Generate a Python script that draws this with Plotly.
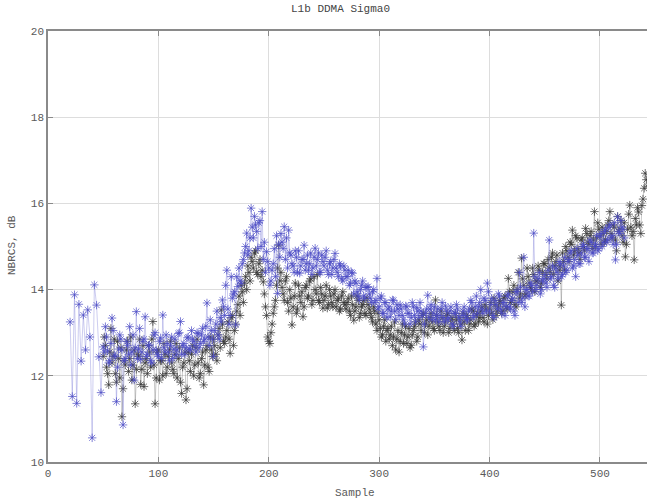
import plotly.graph_objects as go

# NBRCS (dB) per sample for the two DDM channels, stored as two interleaved
# halves (even / odd sample numbers) per channel.
blue_x_a = list(range(20, 523, 2))
blue_y_a = [
    13.25, 11.52, 13.88, 11.36, 13.66, 12.34, 13.41, 12.60, 13.53, 12.90,
    10.56, 14.11, 13.64, 12.44, 11.61, 12.67, 13.14, 12.58, 12.35, 13.34,
    12.48, 11.40, 12.62, 12.85, 10.86, 12.40, 12.70, 13.14, 12.55, 11.90,
    13.49, 12.62, 12.38, 12.80, 13.37, 12.50, 12.72, 12.30, 12.95, 12.60,
    12.45, 12.88, 13.41, 12.55, 12.75, 12.35, 12.90, 12.62, 12.48, 12.98,
    13.26, 12.70, 12.50, 12.88, 12.62, 13.05, 12.80, 12.55, 12.98, 12.75,
    13.10, 12.85, 13.69, 12.70, 13.05, 12.45, 13.20, 12.95, 13.35, 13.76,
    13.40, 14.45, 13.20, 14.30, 13.90, 13.18, 14.07, 14.20, 14.60, 14.85,
    15.31, 14.90, 15.89, 15.20, 15.50, 14.95, 15.60, 15.81, 15.10, 14.88,
    14.50, 14.20, 14.60, 14.30, 13.91, 14.75, 15.10, 15.46, 15.20, 15.38,
    14.80, 14.55, 14.90, 14.40, 14.38, 14.70, 15.03, 14.60, 14.45, 14.85,
    14.50, 14.96, 14.70, 14.40, 14.80, 14.55, 14.90, 14.35, 14.65, 14.50,
    14.84, 14.40, 14.60, 14.25, 14.55, 14.30, 14.45, 14.15, 14.38, 14.20,
    13.95, 13.76, 14.10, 13.85, 14.05, 14.07, 13.80, 13.95, 13.70, 14.26,
    13.60, 13.85, 13.45, 13.70, 13.55, 13.37, 13.76, 13.50, 13.65, 13.40,
    13.55, 13.30, 13.62, 13.45, 13.20, 13.70, 13.40, 13.58, 13.35, 13.50,
    12.67, 13.45, 13.87, 13.55, 13.30, 13.60, 13.40, 13.25, 13.55, 13.35,
    13.62, 13.30, 13.50, 13.20, 13.45, 13.65, 13.35, 13.15, 13.50, 13.40,
    13.30, 13.55, 13.70, 13.40, 13.85, 13.60, 14.00, 13.45, 13.75, 14.15,
    13.50, 13.80, 13.35, 13.65, 13.90, 13.55, 13.70, 13.40, 13.85, 13.60,
    13.75, 13.50, 13.95, 13.70, 14.06, 13.80, 13.60, 14.00, 13.85, 14.10,
    15.31, 14.00, 14.25, 13.90, 14.20, 14.35, 14.05, 15.15, 14.30, 14.10,
    14.50, 14.25, 14.60, 14.35, 14.75, 14.45, 14.70, 14.90, 14.55, 14.30,
    14.80, 14.60, 15.00, 14.75, 14.95, 14.65, 15.10, 14.85, 15.05, 14.90,
    15.23, 15.00, 15.35, 15.10, 15.45, 15.20, 15.05, 14.69, 15.69, 15.30,
    15.45, 15.20,
]
blue_x_b = list(range(51, 522, 2))
blue_y_b = [
    12.55, 12.90, 12.30, 12.75, 13.05, 12.45, 12.20, 12.95, 12.60, 12.35,
    12.80, 12.50, 12.25, 12.95, 12.65, 12.40, 13.10, 12.55, 12.85, 12.45,
    12.70, 12.35, 12.60, 13.00, 12.50, 12.80, 12.40, 12.65, 12.95, 12.55,
    12.70, 12.40, 12.85, 12.60, 13.00, 12.50, 12.75, 12.65, 12.90, 12.60,
    12.85, 12.70, 13.00, 12.65, 12.95, 12.80, 13.15, 12.90, 13.30, 12.85,
    13.05, 13.50, 12.85, 13.25, 13.60, 14.10, 13.55, 13.40, 13.80, 13.95,
    14.30, 14.50, 14.15, 14.70, 15.00, 14.80, 15.20, 15.45, 15.70, 15.35,
    15.55, 15.00, 14.70, 14.40, 14.65, 14.10, 14.45, 14.95, 15.25, 15.05,
    15.30, 14.95, 14.70, 14.50, 14.85, 14.60, 14.40, 14.75, 14.90, 14.55,
    14.70, 14.45, 14.80, 14.60, 14.35, 14.75, 14.55, 14.85, 14.40, 14.65,
    14.75, 14.45, 14.60, 14.35, 14.70, 14.50, 14.30, 14.55, 14.20, 14.45,
    14.30, 14.10, 14.40, 13.90, 14.15, 13.85, 14.00, 14.20, 13.80, 14.05,
    13.90, 13.70, 14.00, 13.75, 13.55, 13.80, 13.45, 13.70, 13.35, 13.60,
    13.50, 13.75, 13.30, 13.55, 13.65, 13.40, 13.20, 13.60, 13.45, 13.35,
    13.60, 13.25, 13.50, 13.70, 13.40, 13.20, 13.55, 13.35, 13.65, 13.45,
    13.30, 13.55, 13.40, 13.70, 13.25, 13.50, 13.35, 13.60, 13.15, 13.45,
    13.55, 13.25, 13.40, 13.60, 13.30, 13.50, 13.75, 13.35, 13.60, 13.45,
    13.70, 13.55, 13.80, 13.50, 13.95, 13.65, 13.40, 13.75, 13.55, 13.85,
    13.45, 13.70, 13.60, 13.90, 13.55, 13.80, 13.40, 13.95, 14.40, 13.70,
    14.75, 14.00, 13.85, 14.15, 13.95, 14.30, 14.10, 14.40, 14.00, 14.25,
    14.15, 14.45, 14.25, 14.55, 14.05, 14.40, 14.65, 14.30, 14.55, 14.40,
    14.65, 14.85, 14.50, 14.70, 14.95, 14.60, 14.85, 15.05, 14.75, 14.95,
    15.15, 14.85, 15.00, 15.25, 14.95, 15.30, 15.10, 15.40, 15.15, 15.50,
    15.25, 15.55, 15.05, 15.35, 15.60, 15.40,
]

black_x_a = list(range(51, 544, 2))
black_y_a = [
    12.90, 12.20, 11.79, 13.10, 12.45, 12.05, 12.80, 11.95, 11.05, 12.35,
    12.60, 12.10, 12.90, 12.25, 11.35, 12.50, 12.85, 12.15, 11.75, 12.40,
    12.70, 12.20, 13.26, 11.35, 12.55, 11.90, 12.35, 12.75, 12.05, 12.45,
    12.80, 12.15, 12.50, 11.95, 12.65, 11.59, 12.30, 11.44, 12.55, 12.10,
    12.70, 12.25, 12.85, 11.95, 12.40, 11.79, 12.60, 12.20, 12.90, 12.45,
    12.70, 12.35, 13.10, 13.53, 12.80, 12.90, 13.25, 12.52, 13.40, 13.05,
    13.50, 13.85, 14.10, 13.70, 14.30, 14.55, 14.20, 14.65, 14.85, 14.40,
    14.60, 14.30, 14.18, 13.60, 12.90, 12.75, 13.20, 13.60, 14.10, 15.03,
    14.40, 13.90, 14.20, 13.70, 14.00, 13.18, 13.85, 13.45, 14.10, 13.70,
    13.37, 14.05, 13.80, 14.20, 13.65, 14.30, 13.90, 13.75, 14.05, 13.57,
    13.85, 13.57, 14.00, 13.70, 13.90, 13.60, 13.80, 13.55, 13.95, 13.65,
    13.70, 13.50, 13.85, 13.29, 13.60, 13.75, 13.45, 13.65, 13.45, 13.80,
    13.55, 13.35, 13.60, 13.20, 13.45, 13.10, 12.95, 13.30, 13.05, 12.85,
    13.15, 12.90, 12.60, 13.05, 12.80, 13.20, 12.95, 12.75, 13.10, 12.71,
    13.05, 13.25, 12.90, 13.20, 13.40, 13.00, 13.30, 13.15, 13.45, 13.10,
    13.76, 13.25, 13.05, 13.35, 13.15, 13.40, 13.00, 13.30, 13.20, 13.45,
    13.10, 13.35, 12.83, 13.25, 13.40, 13.05, 13.30, 13.50, 13.20, 13.45,
    13.35, 13.60, 13.25, 13.55, 13.40, 13.70, 13.30, 13.65, 13.50, 13.75,
    13.45, 13.80, 13.60, 14.26, 13.70, 13.95, 13.65, 14.00, 13.80, 14.73,
    14.10, 13.90, 14.30, 14.05, 14.50, 13.95, 14.20, 14.45, 14.15, 14.60,
    14.35, 14.70, 14.40, 14.85, 14.55, 14.80, 14.45, 13.64, 14.65, 15.00,
    14.75, 15.10, 15.38, 14.90, 15.20, 14.85, 15.15, 15.00, 15.42, 15.10,
    15.25, 14.95, 15.81, 15.20, 15.40, 15.05, 15.30, 15.15, 15.50, 15.81,
    15.20, 15.45, 14.90, 15.35, 15.60, 15.10, 14.76, 15.40, 15.96, 15.25,
    14.69, 15.50, 15.80, 15.30, 16.10, 16.70, 16.40,
]
black_x_b = list(range(50, 543, 2))
black_y_b = [
    12.45, 12.70, 12.05, 12.55, 12.30, 12.85, 11.85, 12.40, 12.65, 11.70,
    12.25, 12.80, 12.40, 11.90, 12.60, 12.15, 12.45, 11.80, 12.70, 12.30,
    12.05, 12.55, 12.85, 12.25, 11.95, 12.60, 12.35, 12.00, 12.50, 12.20,
    12.60, 12.30, 12.05, 12.75, 12.40, 11.85, 12.20, 12.55, 11.70, 12.35,
    12.50, 12.00, 12.65, 12.30, 12.05, 12.55, 12.25, 12.70, 12.10, 12.60,
    12.85, 12.50, 12.95, 12.65, 13.20, 12.75, 13.05, 12.85, 13.35, 12.70,
    13.20, 13.65, 13.40, 13.95, 14.15, 14.00, 14.40, 14.75, 14.50, 14.90,
    14.35, 14.70, 14.45, 13.90, 13.40, 12.80, 13.00, 13.45, 13.75, 14.50,
    14.20, 14.05, 13.75, 14.30, 13.50, 13.80, 13.60, 14.15, 13.55, 13.85,
    13.95, 13.60, 14.10, 13.85, 14.25, 13.75, 14.00, 14.35, 13.70, 13.90,
    13.75, 14.10, 13.65, 13.85, 13.60, 14.00, 13.75, 13.50, 13.85, 13.70,
    13.55, 13.80, 13.40, 13.65, 13.50, 13.85, 13.35, 13.60, 13.75, 13.40,
    13.65, 13.45, 13.25, 13.50, 13.05, 13.30, 12.90, 13.15, 12.80, 13.10,
    12.95, 12.70, 13.25, 12.85, 12.55, 13.00, 12.75, 13.15, 12.90, 12.65,
    12.95, 13.15, 12.80, 13.30, 13.05, 13.45, 13.20, 12.95, 13.35, 13.25,
    13.05, 13.40, 13.15, 13.50, 13.00, 13.25, 13.45, 13.10, 13.35, 13.05,
    13.30, 13.00, 13.20, 13.45, 13.05, 13.35, 13.20, 13.55, 13.15, 13.40,
    13.25, 13.50, 13.35, 13.65, 13.20, 13.55, 13.45, 13.80, 13.40, 13.60,
    13.70, 13.50, 13.85, 13.55, 13.95, 13.75, 14.10, 13.60, 14.40, 13.90,
    14.25, 13.85, 14.50, 14.15, 14.00, 14.35, 14.20, 14.55, 14.05, 14.40,
    14.60, 14.25, 14.50, 14.75, 14.35, 14.65, 14.20, 14.55, 14.85, 14.45,
    14.90, 14.65, 15.05, 14.80, 15.25, 14.95, 14.70, 15.20, 14.90, 15.30,
    15.05, 15.35, 15.15, 15.00, 15.55, 15.25, 15.45, 15.10, 15.35, 15.60,
    15.30, 15.50, 15.15, 15.70, 15.40, 15.25, 15.55, 15.05, 15.75, 15.45,
    15.35, 15.65, 15.90, 15.50, 15.95, 16.35, 16.55,
]

y_ticks = [10, 12, 14, 16, 18, 20]
x_ticks = [0, 100, 200, 300, 400, 500]


def merge(xa, ya, xb, yb):
    pts = sorted(zip(xa + xb, ya + yb))
    return [p[0] for p in pts], [p[1] for p in pts]


blue_x, blue_y = merge(blue_x_a, blue_y_a, blue_x_b, blue_y_b)
black_x, black_y = merge(black_x_a, black_y_a, black_x_b, black_y_b)

FONT = "Liberation Mono, Courier New, monospace"
TXT = "#5a5a5a"
AX = "#8a8a8a"

fig = go.Figure()
fig.add_trace(go.Scatter(
    x=black_x, y=black_y, mode="lines+markers", name="black",
    line=dict(color="rgba(90,90,90,0.55)", width=0.6),
    marker=dict(symbol="asterisk-open", size=7, color="#333333",
                line=dict(color="rgba(40,40,40,0.75)", width=0.7)),
))
fig.add_trace(go.Scatter(
    x=blue_x, y=blue_y, mode="lines+markers", name="blue",
    line=dict(color="rgba(100,100,210,0.55)", width=0.6),
    marker=dict(symbol="asterisk-open", size=7, color="#4a4ac4",
                line=dict(color="rgba(70,70,195,0.8)", width=0.7)),
))

fig.update_layout(
    width=647, height=504,
    margin=dict(l=48, r=0, t=31, b=42),
    paper_bgcolor="white", plot_bgcolor="white",
    showlegend=False,
    font=dict(family=FONT, size=11, color=TXT),
)
fig.update_xaxes(
    range=[0, 542.6], tickvals=x_ticks, ticktext=[str(v) for v in x_ticks],
    showgrid=True, gridcolor="#dddddd", gridwidth=1,
    showline=True, linecolor=AX, linewidth=1.5, mirror="ticks",
    ticks="inside", ticklen=5, tickcolor=AX, zeroline=False,
    tickfont=dict(family=FONT, size=11, color=TXT),
)
fig.update_yaxes(
    range=[10, 20], tickvals=y_ticks, ticktext=[str(v) for v in y_ticks],
    showgrid=True, gridcolor="#dddddd", gridwidth=1,
    showline=True, linecolor=AX, linewidth=1.5,
    ticks="inside", ticklen=5, tickcolor=AX, zeroline=False,
    tickfont=dict(family=FONT, size=11, color=TXT),
)

fig.add_annotation(text="L1b DDMA Sigma0", xref="paper", yref="paper",
                   x=(340 - 48) / 599, y=1 + (31 - 9) / 431,
                   showarrow=False, xanchor="center", yanchor="middle",
                   font=dict(family=FONT, size=11, color="#444444"))
fig.add_annotation(text="Sample", xref="paper", yref="paper",
                   x=(355 - 48) / 599, y=-(493 - 462) / 431,
                   showarrow=False, xanchor="center", yanchor="middle",
                   font=dict(family=FONT, size=11, color=TXT))
fig.add_annotation(text="NBRCS, dB", xref="paper", yref="paper",
                   x=-(48 - 12) / 599, y=(462 - 245) / 431, textangle=-90,
                   showarrow=False, xanchor="center", yanchor="middle",
                   font=dict(family=FONT, size=11, color=TXT))

fig.write_html("out.html")
